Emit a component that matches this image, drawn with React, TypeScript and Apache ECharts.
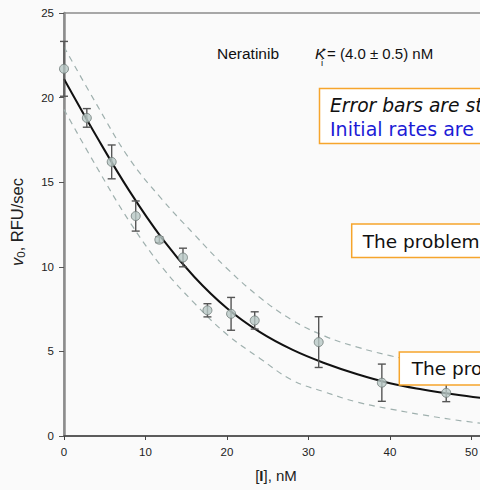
import React, { useEffect, useRef } from "react";
import * as echarts from "echarts";

// Measured points: inhibitor concentration [I] (nM), initial rate v0 (RFU/sec), error
const concX = [0, 2.8, 5.85, 8.8, 11.7, 14.6, 17.6, 20.5, 23.4, 31.25, 39.0, 46.9];
const rateY = [21.7, 18.8, 16.2, 13.0, 11.6, 10.55, 7.43, 7.22, 6.83, 5.55, 3.15, 2.55];
const errY = [1.62, 0.55, 1.0, 0.89, 0.17, 0.55, 0.39, 0.97, 0.51, 1.5, 1.1, 0.52];

// Fitted curve and confidence band
const curveX = [0, 4, 8, 12, 16, 20, 24, 28, 32, 36, 40, 44, 48, 52];
const fitY = [21.1, 17.7, 14.5, 11.7, 9.4, 7.55, 6.15, 5.1, 4.3, 3.65, 3.12, 2.75, 2.45, 2.2];
const upperY = [23.0, 19.6, 16.4, 14.0, 11.9, 9.9, 8.2, 6.85, 5.9, 5.25, 4.75, 4.35, 4.0, 3.7];
const lowerY = [19.3, 15.9, 12.7, 10.0, 7.85, 6.0, 4.6, 3.3, 2.6, 2.0, 1.6, 1.25, 0.95, 0.7];

const xTicks = { min: 0, max: 60, interval: 10 };
const yTicks = { min: 0, max: 25, interval: 5 };

const SANS = "Liberation Sans, Arial, sans-serif";
const VERD = "DejaVu Sans, Verdana, sans-serif";
const ORANGE = "#f6a52c";

export default function App() {
  const ref = useRef<HTMLDivElement>(null);
  useEffect(() => {
    if (!ref.current) return;
    const chart = echarts.init(ref.current, null, { renderer: "svg" });
    const pairs = (ys: number[]) => curveX.map((x, i) => [x, ys[i]]);
    const option: any = {
      animation: false,
      backgroundColor: "#fafafa",
      grid: {
        left: 64,
        top: 13,
        width: 489,
        bottom: 54,
        show: true,
        borderColor: "#555",
        borderWidth: 1,
        backgroundColor: "transparent",
      },
      xAxis: {
        type: "value",
        min: xTicks.min,
        max: xTicks.max,
        interval: xTicks.interval,
        axisLine: { show: true, onZero: false, lineStyle: { color: "#444", width: 1.5 } },
        axisTick: { show: true, length: 4, lineStyle: { color: "#444" } },
        axisLabel: { color: "#222", fontSize: 11.5, fontFamily: SANS, margin: 10 },
        splitLine: { show: false },
      },
      yAxis: {
        type: "value",
        min: yTicks.min,
        max: yTicks.max,
        interval: yTicks.interval,
        axisLine: { show: true, onZero: false, lineStyle: { color: "#8c8c8c", width: 2.5 } },
        axisTick: { show: true, length: 5, lineStyle: { color: "#555" } },
        axisLabel: { color: "#222", fontSize: 11.5, fontFamily: SANS, margin: 10 },
        splitLine: { show: false },
      },
      series: [
        {
          type: "line",
          data: pairs(upperY),
          smooth: 0.4,
          showSymbol: false,
          symbol: "none",
          lineStyle: { color: "#9fb0ae", width: 1.2, type: [6, 5] },
          z: 2,
        },
        {
          type: "line",
          data: pairs(lowerY),
          smooth: 0.4,
          showSymbol: false,
          symbol: "none",
          lineStyle: { color: "#9fb0ae", width: 1.2, type: [6, 5] },
          z: 2,
        },
        {
          type: "line",
          data: pairs(fitY),
          smooth: 0.4,
          showSymbol: false,
          symbol: "none",
          lineStyle: { color: "#111", width: 2 },
          z: 3,
        },
        {
          type: "custom",
          clip: false,
          z: 4,
          encode: { x: 0, y: 1 },
          data: concX.map((x, i) => [x, rateY[i], errY[i]]),
          renderItem: (params: any, api: any) => {
            const x = api.value(0);
            const y = api.value(1);
            const e = api.value(2);
            const top = api.coord([x, y + e]);
            const bot = api.coord([x, y - e]);
            const w = 4;
            const st = { stroke: "#555", lineWidth: 1.4 };
            return {
              type: "group",
              children: [
                { type: "line", shape: { x1: top[0], y1: top[1], x2: bot[0], y2: bot[1] }, style: st },
                { type: "line", shape: { x1: top[0] - w, y1: top[1], x2: top[0] + w, y2: top[1] }, style: st },
                { type: "line", shape: { x1: bot[0] - w, y1: bot[1], x2: bot[0] + w, y2: bot[1] }, style: st },
              ],
            };
          },
        },
        {
          type: "scatter",
          clip: false,
          z: 5,
          data: concX.map((x, i) => [x, rateY[i]]),
          symbol: "circle",
          symbolSize: 9,
          itemStyle: { color: "#b8c8c5", borderColor: "#6f7a78", borderWidth: 1 },
        },
      ],
      graphic: [
        // y axis name
        {
          type: "text",
          x: 17,
          y: 222,
          rotation: Math.PI / 2,
          style: {
            text: "{v|v}{s|0}{n|, RFU/sec}",
            align: "center",
            verticalAlign: "middle",
            fill: "#222",
            rich: {
              v: { fontStyle: "italic", fontSize: 16.5, fontFamily: SANS, lineHeight: 20, fill: "#222" },
              s: { fontSize: 11.5, fontFamily: SANS, lineHeight: 12, verticalAlign: "bottom", fill: "#222" },
              n: { fontSize: 16.5, fontFamily: SANS, lineHeight: 20, fill: "#222" },
            },
          },
        },
        // x axis name
        {
          type: "text",
          x: 276,
          y: 475,
          style: {
            text: "{a|[}{b|I}{a|], nM}",
            align: "center",
            verticalAlign: "middle",
            fill: "#222",
            rich: {
              a: { fontSize: 15, fontFamily: SANS, fill: "#222" },
              b: { fontSize: 15, fontFamily: SANS, fontWeight: "bold", fill: "#222" },
            },
          },
        },
        // compound label
        {
          type: "text",
          x: 217,
          y: 53.5,
          style: { text: "Neratinib", fontSize: 15.5, fontFamily: SANS, fill: "#111", align: "left", verticalAlign: "middle" },
        },
        {
          type: "text",
          x: 315,
          y: 53.5,
          style: { text: "K", fontSize: 15.5, fontStyle: "italic", fontFamily: SANS, fill: "#111", align: "left", verticalAlign: "middle" },
        },
        {
          type: "text",
          x: 321,
          y: 62,
          style: { text: "i", fontSize: 9.5, fontFamily: SANS, fill: "#111", align: "left", verticalAlign: "middle" },
        },
        {
          type: "text",
          x: 322,
          y: 50,
          style: { text: "*", fontSize: 9.5, fontFamily: SANS, fill: "#111", align: "left", verticalAlign: "middle" },
        },
        {
          type: "text",
          x: 327,
          y: 53.5,
          style: { text: "= (4.0 ± 0.5) nM", fontSize: 15, fontFamily: SANS, fill: "#111", align: "left", verticalAlign: "middle" },
        },
        // note boxes
        {
          type: "rect",
          shape: { x: 319.5, y: 88.5, width: 400, height: 55 },
          style: { fill: "#fff", stroke: ORANGE, lineWidth: 1.5 },
          z: 10,
        },
        {
          type: "text",
          x: 330,
          y: 105.5,
          z: 11,
          style: { text: "Error bars are standard deviations", fontSize: 18.7, fontStyle: "italic", fontFamily: VERD, fill: "#111", align: "left", verticalAlign: "middle" },
        },
        {
          type: "text",
          x: 330,
          y: 128.5,
          z: 11,
          style: { text: "Initial rates are", fontSize: 19, fontFamily: VERD, fill: "#1c1cd6", align: "left", verticalAlign: "middle" },
        },
        {
          type: "rect",
          shape: { x: 351.7, y: 224, width: 400, height: 33.5 },
          style: { fill: "#fff", stroke: ORANGE, lineWidth: 1.5 },
          z: 10,
        },
        {
          type: "text",
          x: 362.7,
          y: 241,
          z: 11,
          style: { text: "The problem", fontSize: 18.5, fontFamily: VERD, fill: "#111", align: "left", verticalAlign: "middle" },
        },
        {
          type: "rect",
          shape: { x: 399.3, y: 352, width: 400, height: 33 },
          style: { fill: "#fff", stroke: ORANGE, lineWidth: 1.5 },
          z: 10,
        },
        {
          type: "text",
          x: 411.7,
          y: 368.5,
          z: 11,
          style: { text: "The problem", fontSize: 18.5, fontFamily: VERD, fill: "#111", align: "left", verticalAlign: "middle" },
        },
      ],
    };
    chart.setOption(option);
    return () => chart.dispose();
  }, []);
  return (
    <div style={{ position: "absolute", left: 0, top: 0, width: 480, height: 490, overflow: "hidden" }}>
      <div ref={ref} style={{ width: 600, height: 490 }} />
    </div>
  );
}
